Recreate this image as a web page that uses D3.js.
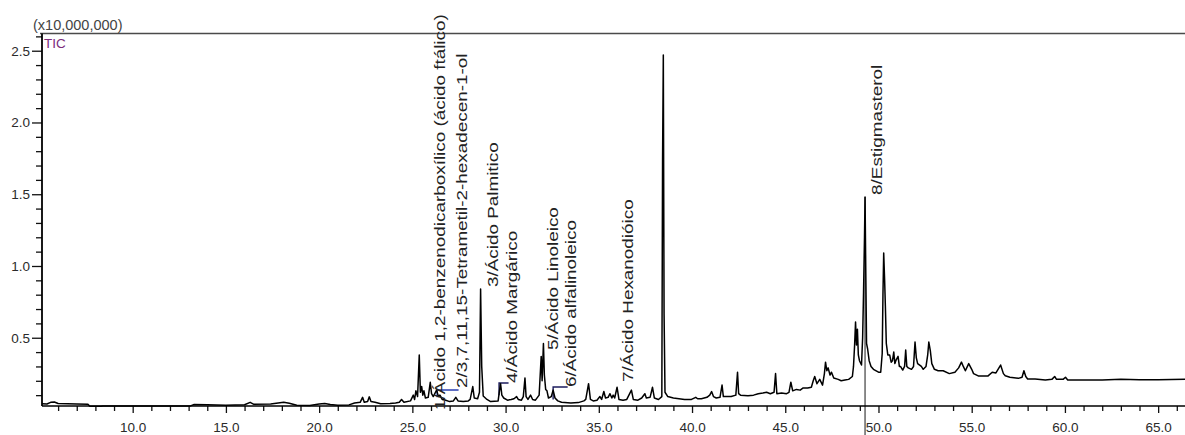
<!DOCTYPE html>
<html>
<head>
<meta charset="utf-8">
<script src="https://cdn.jsdelivr.net/npm/d3@7"></script>
<style>
  body { margin: 0; background: #fff; }
  text { font-family: "Liberation Sans", Arial, sans-serif; }
</style>
</head>
<body>
<div id="chart"></div>
<script>
// TIC chromatogram, intensity in units of 10,000,000, time in min
const retentionTimes = [
  5.14, 5.4, 5.6, 5.8, 6.0, 7.0, 7.6, 7.7, 8.3, 8.4, 10.0, 12.0, 13.1, 13.3, 14.0, 15.0, 16.0, 16.3, 16.5, 17.4,
  17.8, 18.1, 18.4, 18.8, 19.5, 20.0, 20.3, 20.6, 21.0, 21.6, 21.9, 22.2, 22.33, 22.42, 22.6, 22.69, 22.78, 23.0, 23.3, 23.8,
  24.1, 24.3, 24.42, 24.55, 24.9, 25.05, 25.12, 25.19, 25.28, 25.37, 25.43, 25.5, 25.56, 25.62, 25.7, 25.85, 25.96, 26.03, 26.12, 26.3,
  26.4, 26.48, 26.6, 26.75, 27.0, 27.2, 27.33, 27.45, 27.73, 28.0, 28.1, 28.24, 28.32, 28.5, 28.6, 28.66, 28.72, 28.8, 29.0, 29.2,
  29.4, 29.6, 29.66, 29.73, 29.8, 29.9, 30.1, 30.3, 30.45, 30.59, 30.68, 30.85, 30.95, 31.04, 31.1, 31.2, 31.34, 31.45, 31.6, 31.8,
  31.91, 31.96, 32.03, 32.08, 32.15, 32.22, 32.3, 32.45, 32.55, 32.65, 32.8, 33.0, 33.5, 33.9, 34.2, 34.3, 34.45, 34.55, 34.7, 34.9,
  35.06, 35.15, 35.27, 35.36, 35.5, 35.6, 35.7, 35.77, 35.85, 35.98, 36.08, 36.3, 36.5, 36.75, 36.85, 37.1, 37.3, 37.47, 37.55, 37.75,
  37.88, 37.98, 38.2, 38.38, 38.42, 38.46, 38.5, 38.55, 38.7, 39.0, 39.3, 39.6, 39.97, 40.2, 40.3, 40.5, 40.8, 40.95, 41.05, 41.15,
  41.3, 41.5, 41.61, 41.68, 41.85, 42.1, 42.35, 42.44, 42.5, 42.6, 43.0, 43.3, 43.55, 43.8, 44.0, 44.2, 44.4, 44.48, 44.55, 44.8,
  45.07, 45.2, 45.3, 45.4, 45.6, 45.8, 45.96, 46.2, 46.4, 46.5, 46.58, 46.7, 46.85, 47.0, 47.1, 47.16, 47.23, 47.3, 47.4, 47.48,
  47.6, 47.84, 48.0, 48.2, 48.4, 48.6, 48.66, 48.72, 48.77, 48.82, 48.87, 48.92, 48.98, 49.09, 49.15, 49.2, 49.25, 49.28, 49.32, 49.36,
  49.42, 49.5, 49.6, 49.73, 50.0, 50.12, 50.2, 50.24, 50.28, 50.33, 50.37, 50.42, 50.5, 50.6, 50.68, 50.75, 50.82, 50.88, 50.93, 51.05,
  51.12, 51.18, 51.3, 51.4, 51.46, 51.52, 51.6, 51.77, 51.88, 51.96, 52.03, 52.1, 52.3, 52.4, 52.55, 52.64, 52.7, 52.78, 52.86, 53.0,
  53.2, 53.47, 53.8, 54.1, 54.3, 54.45, 54.55, 54.66, 54.84, 55.0, 55.1, 55.35, 55.88, 56.1, 56.3, 56.55, 56.7, 56.8, 57.05, 57.5,
  57.7, 57.8, 57.9, 58.0, 58.4, 58.95, 59.3, 59.45, 59.55, 59.9, 60.03, 60.15, 61.0, 62.0, 63.0, 64.0, 65.0, 66.44
];
const intensities = [
  0.040, 0.038, 0.050, 0.052, 0.042, 0.038, 0.036, 0.022, 0.022, 0.025, 0.024, 0.024, 0.025, 0.035, 0.033, 0.030, 0.033, 0.050, 0.036, 0.038,
  0.045, 0.050, 0.043, 0.030, 0.028, 0.038, 0.042, 0.035, 0.030, 0.032, 0.045, 0.050, 0.085, 0.050, 0.055, 0.088, 0.055, 0.050, 0.040, 0.042,
  0.045, 0.050, 0.070, 0.050, 0.060, 0.100, 0.070, 0.130, 0.090, 0.380, 0.120, 0.160, 0.100, 0.130, 0.080, 0.085, 0.190, 0.110, 0.090, 0.135,
  0.090, 0.100, 0.070, 0.066, 0.055, 0.060, 0.085, 0.060, 0.055, 0.060, 0.070, 0.160, 0.080, 0.075, 0.120, 0.840, 0.300, 0.094, 0.070, 0.055,
  0.058, 0.060, 0.120, 0.180, 0.100, 0.080, 0.065, 0.070, 0.075, 0.090, 0.070, 0.065, 0.090, 0.220, 0.090, 0.070, 0.100, 0.070, 0.065, 0.100,
  0.370, 0.200, 0.460, 0.240, 0.140, 0.130, 0.080, 0.090, 0.135, 0.080, 0.060, 0.050, 0.045, 0.048, 0.060, 0.070, 0.180, 0.070, 0.060, 0.065,
  0.090, 0.070, 0.125, 0.080, 0.085, 0.110, 0.080, 0.100, 0.080, 0.155, 0.070, 0.065, 0.070, 0.135, 0.070, 0.065, 0.080, 0.110, 0.080, 0.085,
  0.155, 0.080, 0.070, 0.090, 1.740, 2.470, 0.670, 0.120, 0.090, 0.080, 0.075, 0.070, 0.070, 0.085, 0.075, 0.075, 0.085, 0.100, 0.125, 0.090,
  0.080, 0.085, 0.170, 0.090, 0.090, 0.090, 0.100, 0.260, 0.110, 0.100, 0.095, 0.100, 0.110, 0.115, 0.120, 0.110, 0.120, 0.250, 0.110, 0.115,
  0.110, 0.120, 0.190, 0.130, 0.140, 0.135, 0.150, 0.150, 0.155, 0.200, 0.230, 0.180, 0.210, 0.170, 0.250, 0.330, 0.270, 0.290, 0.240, 0.260,
  0.220, 0.210, 0.200, 0.205, 0.210, 0.230, 0.300, 0.450, 0.610, 0.450, 0.560, 0.380, 0.340, 0.310, 0.500, 0.820, 1.200, 1.480, 0.950, 0.460,
  0.420, 0.340, 0.300, 0.280, 0.260, 0.260, 0.390, 0.800, 1.090, 0.900, 0.720, 0.460, 0.380, 0.380, 0.330, 0.340, 0.400, 0.320, 0.340, 0.370,
  0.300, 0.300, 0.275, 0.300, 0.415, 0.300, 0.290, 0.280, 0.300, 0.470, 0.360, 0.320, 0.300, 0.280, 0.300, 0.380, 0.470, 0.410, 0.320, 0.280,
  0.270, 0.270, 0.250, 0.260, 0.290, 0.330, 0.300, 0.270, 0.320, 0.280, 0.250, 0.234, 0.234, 0.260, 0.255, 0.310, 0.250, 0.235, 0.225, 0.217,
  0.225, 0.270, 0.230, 0.213, 0.213, 0.206, 0.210, 0.230, 0.210, 0.210, 0.225, 0.206, 0.206, 0.206, 0.210, 0.208, 0.208, 0.210
];

// identified peaks
const peakNames = [
  "1/Ácido 1,2-benzenodicarboxílico (ácido ftálico)",
  "2/3,7,11,15-Tetrametil-2-hexadecen-1-ol",
  "3/Ácido Palmitico",
  "4/Ácido Margárico",
  "5/Ácido Linoleico",
  "6/Ácido alfalinoleico",
  "7/Ácido Hexanodióico",
  "8/Estigmasterol"
];
const peakTimes = [25.96, 26.33, 28.66, 29.65, 32.03, 32.55, 35.98, 49.28];
const labelTimes = [26.48, 27.64, 29.32, 30.32, 32.54, 33.49, 36.56, 49.89];
const labelLevels = [-0.003, 0.15, 0.853, 0.185, 0.415, 0.157, 0.192, 1.495];
const connectorBase = [null, 0.085, null, 0.1, null, 0.07, null, null];

const xMajor = d3.range(10, 66, 5);
const xMinor = d3.range(6, 67, 1).filter(v => v % 5 !== 0);
const yMajor = [0.5, 1.0, 1.5, 2.0, 2.5];
const yMinor = d3.range(1, 27).map(v => v / 10).filter(v => Math.round(v * 10) % 5 !== 0);

const W = 1185, H = 435;
const svg = d3.select("#chart").append("svg")
    .attr("width", W)
    .attr("height", H);

const x = d3.scaleLinear().domain([5.136, 66.44]).range([42, 1185]);
const y = d3.scaleLinear().domain([0, 2.62]).range([409.5, 33.5]);
const axisY = 406;

// marker line under peak 8
svg.append("line")
    .attr("x1", x(peakTimes[7])).attr("x2", x(peakTimes[7]))
    .attr("y1", y(1.48)).attr("y2", H)
    .attr("stroke", "#6e6e6e")
    .attr("stroke-width", 1.6);

// top frame line
svg.append("line")
    .attr("x1", 40).attr("x2", W)
    .attr("y1", 33.5).attr("y2", 33.5)
    .attr("stroke", "#4a4a4a")
    .attr("stroke-width", 1.5);

// x axis
const gx = svg.append("g").attr("transform", `translate(0,${axisY})`);
gx.call(d3.axisBottom(x).tickValues(xMajor).tickSize(7).tickPadding(9).tickFormat(d3.format(".1f")));
gx.append("g").call(d3.axisBottom(x).tickValues(xMinor).tickSize(5).tickFormat(""));
gx.selectAll(".domain").remove();
gx.selectAll("line").attr("stroke", "#111").attr("stroke-width", 1.3);
gx.selectAll("text").attr("font-size", "13.5px").attr("fill", "#2a2a2a").attr("font-family", "Liberation Sans, Arial, sans-serif");
gx.append("line").attr("x1", 42).attr("x2", W).attr("stroke", "#000").attr("stroke-width", 1.6);

// y axis
const gy = svg.append("g").attr("transform", "translate(42,0)");
gy.call(d3.axisLeft(y).tickValues(yMajor).tickSize(10).tickPadding(2).tickFormat(d3.format(".1f")));
gy.append("g").call(d3.axisLeft(y).tickValues(yMinor).tickSize(6).tickFormat(""));
gy.selectAll(".domain").remove();
gy.selectAll("line").attr("stroke", "#111").attr("stroke-width", 1.3);
gy.selectAll("text").attr("font-size", "13.5px").attr("fill", "#2a2a2a").attr("font-family", "Liberation Sans, Arial, sans-serif");
gy.append("line").attr("y1", 33.5).attr("y2", axisY).attr("stroke", "#000").attr("stroke-width", 1.8);

svg.append("text")
    .attr("x", 33).attr("y", 30)
    .attr("font-size", "14.5px")
    .attr("fill", "#444")
    .text("(x10,000,000)");
svg.append("text")
    .attr("x", 44).attr("y", 48)
    .attr("font-size", "13.5px")
    .attr("fill", "#7b2d7b")
    .text("TIC");

// connectors from peak to label
const connColors = ["#2b3fb0", "#2b3fb0", "#1c1c5e", "#1c1c5e", "#1c1c5e", "#1c1c5e", "#1c1c5e", "#1c1c5e"];
peakNames.forEach((n, i) => {
  if (connectorBase[i] === null) return;
  const px = x(peakTimes[i]), ly = y(labelLevels[i]) + (i === 1 ? 2 : 0);
  svg.append("path")
      .attr("d", `M${px},${y(connectorBase[i])}L${px},${ly}L${x(labelTimes[i]) - 3},${ly}`)
      .attr("fill", "none")
      .attr("stroke", connColors[i])
      .attr("stroke-width", 1.4);
});

// trace
const pts = retentionTimes.map((t, i) => [t, intensities[i]]);
svg.append("path")
    .datum(pts)
    .attr("d", d3.line().x(d => x(d[0])).y(d => y(d[1])))
    .attr("fill", "none")
    .attr("stroke", "#000")
    .attr("stroke-width", 1.5)
    .attr("stroke-linejoin", "round");

// peak labels, vertical
svg.selectAll(".plabel")
  .data(peakNames)
  .join("text")
    .attr("class", "plabel")
    .attr("transform", (d, i) => `translate(${x(labelTimes[i]) + 5.5},${y(labelLevels[i])}) rotate(-90) scale(1.26,1)`)
    .attr("font-size", "15px")
    .attr("fill", "#222")
    .text(d => d);
</script>
</body>
</html>
